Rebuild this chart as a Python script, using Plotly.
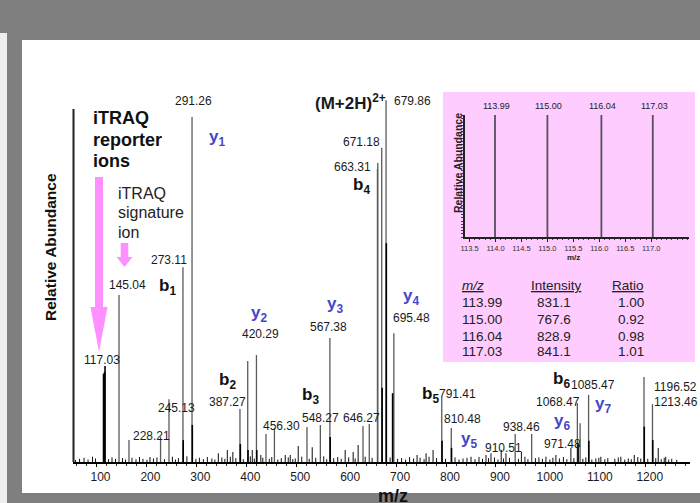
import plotly.graph_objects as go

# ---------------- data ----------------
# labelled / main fragment peaks (gray stems)
major_mz = [145.04, 165.0, 228.21, 245.13, 273.11, 291.26, 387.27, 402.8, 420.29,
            439.4, 456.30, 521.5, 548.27, 567.38, 633.7, 646.27, 662.6, 663.31,
            671.18, 679.86, 695.48, 791.41, 810.48, 938.46, 971.48, 1063.0,
            1068.47, 1085.47, 1196.52, 1213.46]
major_int = [47.3, 6.2, 7.1, 17.8, 55.2, 97.7, 15.0, 28.6, 30.3,
             7.9, 9.6, 9.9, 10.5, 35.1, 10.2, 10.8, 83.0, 84.7,
             89.0, 102.5, 36.5, 18.1, 9.6, 7.9, 7.9, 16.7,
             11.0, 19.0, 24.1, 16.4]

# dense / overlapping peaks (black stems)
dense_mz = [114.0, 115.0, 116.0, 117.03, 273.6, 291.8, 388.0, 403.4, 420.9,
            568.0, 672.0, 680.4, 693.0, 792.0, 811.0, 1064.5, 1086.0, 1197.0, 1214.0]
dense_int = [25.0, 23.5, 25.5, 27.2, 6.2, 10.5, 5.1, 3.4, 3.4,
             7.1, 21.0, 62.0, 19.5, 6.0, 4.0, 5.0, 6.0, 10.0, 6.2]

# small peaks
minor_mz = [207, 344, 362, 373, 412, 429, 478, 488, 504, 532, 598, 614, 624, 742,
            760, 774, 850, 880, 890, 910.51, 920, 951, 1000, 1020, 1050, 1110,
            1150, 1177, 1225, 1240]
minor_int = [1.4, 2.5, 3.4, 2.8, 3.4, 2.0, 2.0, 2.0, 4.5, 4.2, 3.4, 2.8, 4.8, 2.0,
             2.5, 3.4, 1.5, 2.0, 2.5, 3.5, 2.5, 2.8, 1.5, 2.0, 4.0, 1.5,
             1.5, 2.0, 4.0, 1.5]

# baseline noise
noise_mz = [58, 66, 75, 83, 92, 98, 124, 131, 138, 152, 158, 171, 179, 186, 193, 201,
            214, 221, 236, 252, 258, 264, 281, 299, 306, 314, 322, 331, 337, 351, 357,
            368, 379, 394, 408, 416, 433, 446, 451, 463, 470, 484, 493, 498, 511, 526,
            539, 555, 561, 575, 583, 590, 605, 618, 638, 652, 688, 703, 711, 719, 727,
            735, 748, 756, 766, 781, 799, 818, 826, 834, 842, 858, 866, 873, 885, 897,
            904, 915, 927, 945, 958, 964, 979, 986, 993, 1008, 1014, 1027, 1035, 1042,
            1056, 1074, 1080, 1092, 1100, 1106, 1118, 1124, 1138, 1145, 1158, 1165,
            1171, 1184, 1190, 1204, 1220, 1231, 1237, 1246, 1252, 1262]
noise_int = [0.6, 0.9, 1.2, 0.7, 1.5, 1.0, 0.8, 1.3, 0.9, 1.1, 0.7, 1.2, 0.8, 1.4, 0.9, 0.6,
             1.0, 1.3, 0.8, 1.5, 0.7, 1.1, 1.6, 0.9, 1.2, 0.8, 1.4, 1.0, 0.7, 1.3, 0.9,
             1.5, 1.1, 0.8, 1.6, 1.0, 1.2, 0.9, 1.4, 0.7, 1.1, 1.3, 0.8, 1.0, 1.5, 0.9,
             1.2, 1.6, 0.8, 1.1, 1.4, 0.9, 1.3, 1.0, 1.5, 1.2, 1.3, 0.9, 1.1, 0.7, 1.4,
             1.0, 1.2, 0.8, 1.5, 1.1, 0.9, 1.3, 0.7, 1.0, 1.2, 0.8, 1.4, 0.9, 1.1, 1.3,
             0.7, 1.0, 1.2, 0.9, 1.5, 0.8, 1.1, 1.3, 0.9, 0.7, 1.2, 1.0, 1.4, 0.8,
             1.1, 0.9, 1.3, 0.7, 1.0, 1.2, 0.8, 1.1, 0.9, 1.3, 0.7, 1.0,
             0.8, 1.4, 1.0, 0.9, 1.1, 0.8, 1.2, 0.7, 0.9, 0.6]

x_ticks = [100, 200, 300, 400, 500, 600, 700, 800, 900, 1000, 1100, 1200]

# inset: iTRAQ reporter ions
rep_mz = [113.99, 115.00, 116.04, 117.03]
rep_int = [831.1, 767.6, 828.9, 841.1]
rep_ratio = ["1.00", "0.92", "0.98", "1.01"]
rep_labels = ["113.99", "115.00", "116.04", "117.03"]
rep_int_labels = ["831.1", "767.6", "828.9", "841.1"]
inset_ticks = [113.5, 114.0, 114.5, 115.0, 115.5, 116.0, 116.5, 117.0]

peak_labels = ["291.26", "273.11", "145.04", "117.03", "671.18", "663.31", "567.38",
               "695.48", "420.29", "387.27", "245.13", "228.21", "456.30", "548.27",
               "646.27", "791.41", "810.48", "938.46", "910.51", "971.48", "1068.47",
               "1085.47", "1196.52", "1213.46"]
b_ions = ["b<sub>1</sub>", "b<sub>2</sub>", "b<sub>3</sub>", "b<sub>4</sub>",
          "b<sub>5</sub>", "b<sub>6</sub>"]
y_ions = ["y<sub>1</sub>", "y<sub>2</sub>", "y<sub>3</sub>", "y<sub>4</sub>",
          "y<sub>5</sub>", "y<sub>6</sub>", "y<sub>7</sub>"]

# ---------------- layout helpers ----------------
FONT = "Liberation Sans, Arial, sans-serif"
W, H = 700, 503
L, R, T, B = 73, 690, 98, 462
PX_PER_MZ = 0.4993
MZ0_PX = 46.6
X_RANGE = [(L - MZ0_PX) / PX_PER_MZ, (R - MZ0_PX) / PX_PER_MZ]
PX_PER_PCT = 3.53
Y_RANGE = [0, (B - T) / PX_PER_PCT]


def fx(px):
    return (px - L) / (R - L)


def fy(py):
    return (B - py) / (B - T)


def stems(mz, inten):
    xs, ys = [], []
    for m, v in zip(mz, inten):
        xs += [m, m, None]
        ys += [0, v, None]
    return xs, ys


fig = go.Figure()
for mzs, ints, col, wid in [(noise_mz, noise_int, "#111111", 1.0),
                            (minor_mz, minor_int, "#222222", 1.1),
                            (major_mz, major_int, "#5a5a5a", 1.3),
                            (dense_mz, dense_int, "#000000", 1.6)]:
    xs, ys = stems(mzs, ints)
    fig.add_trace(go.Scatter(x=xs, y=ys, mode="lines", line=dict(color=col, width=wid),
                             hoverinfo="skip", showlegend=False, xaxis="x", yaxis="y"))

xs, ys = stems(rep_mz, rep_int)
fig.add_trace(go.Scatter(x=xs, y=ys, mode="lines", line=dict(color="#55505a", width=1.8),
                         hoverinfo="skip", showlegend=False, xaxis="x2", yaxis="y2"))

annotations = []


def txt(text, px, py, size=12, color="#1a1a1a", xanchor="center", angle=0, bold=False):
    if bold:
        text = "<b>" + text + "</b>"
    annotations.append(dict(text=text, x=fx(px), y=fy(py), xref="paper", yref="paper",
                            showarrow=False, xanchor=xanchor, yanchor="middle",
                            textangle=angle, borderpad=0,
                            font=dict(size=size, color=color, family=FONT)))


# peak value labels
label_pos = [(193.5, 101), (168.7, 260), (127.7, 285), (102, 359.5), (361.7, 141.7),
             (352.8, 167.3), (328.3, 326.7), (411.7, 317.7), (260.8, 334.3), (227.7, 401.7),
             (176.7, 408.3), (151.7, 436), (281.3, 425.5), (320.7, 417.7), (361.5, 417.7),
             (457.5, 393.5), (462.5, 419), (521, 427.3), (503, 448.3), (562.8, 444),
             (558.3, 401.7), (592.5, 385), (675.8, 386.7), (675.8, 401.7)]
for t, (px, py) in zip(peak_labels, label_pos):
    txt(t, px, py, size=12)
txt("679.86", 392.5, 101, size=12, xanchor="left")
txt("(M+2H)<sup>2+</sup>", 387, 102, size=17, bold=True, xanchor="right")

# ion labels
b_pos = [(167.5, 287), (227, 381), (310.5, 396), (361, 186), (430, 395), (561, 379.5)]
for t, (px, py) in zip(b_ions, b_pos):
    txt(t, px, py, size=17, bold=True, color="#111111")
y_pos = [(217, 138), (259.3, 314), (335, 304.5), (410.5, 296.5), (469.3, 439.5),
         (561.7, 422), (603.3, 404.5)]
BLUE = "#4646c8"
for t, (px, py) in zip(y_ions, y_pos):
    txt(t, px, py, size=17, bold=True, color=BLUE)

# iTRAQ texts
txt("iTRAQ", 92, 118, size=18, bold=True, xanchor="left", color="#111111")
txt("reporter", 92, 140, size=18, bold=True, xanchor="left", color="#111111")
txt("ions", 92, 161, size=18, bold=True, xanchor="left", color="#111111")
txt("iTRAQ", 117, 193, size=16, xanchor="left", color="#222222")
txt("signature", 117, 212, size=16, xanchor="left", color="#222222")
txt("ion", 117, 232, size=16, xanchor="left", color="#222222")

# axis titles
txt("Relative Abundance", 50, 247, size=15.5, bold=True, angle=-90, color="#111111")
txt("m/z", 393, 495.5, size=18, bold=True, color="#111111")

# inset texts
for t, m in zip(rep_labels, rep_mz):
    px = 495 + (m - 113.99) * 51.9
    txt(t, px + 1.5, 106, size=9, color="#222222")
txt("m/z", 573, 257, size=8, bold=True, color="#222222")
txt("Relative Abundance", 458, 163, size=10.5, bold=True, angle=-90, color="#222222")

# table
TROW = [302.7, 319.3, 336, 351.7]
txt("<i><u>m/z</u></i>", 460.5, 285.5, size=13.5, xanchor="left", color="#222222")
txt("<u>Intensity</u>", 556, 285.5, size=13.5, color="#222222")
txt("<u>Ratio</u>", 645, 285.5, size=13.5, xanchor="right", color="#222222")
for i in range(4):
    txt(rep_labels[i], 460.5, TROW[i], size=13.5, xanchor="left", color="#222222")
    txt(rep_int_labels[i], 553.5, TROW[i], size=13.5, color="#222222")
    txt(rep_ratio[i], 644.5, TROW[i], size=13.5, xanchor="right", color="#222222")


def rect(x0, y0, x1, y1, color, layer="below"):
    return dict(type="rect", xref="paper", yref="paper", x0=fx(x0), x1=fx(x1),
                y0=fy(y1), y1=fy(y0), fillcolor=color, line=dict(width=0), layer=layer)


def poly(points, color):
    path = "M " + " L ".join(f"{fx(a):.5f},{fy(b):.5f}" for a, b in points) + " Z"
    return dict(type="path", xref="paper", yref="paper", path=path, fillcolor=color,
                line=dict(width=0), layer="above")


PINK = "#ff90ff"
shapes = [
    rect(22, 40, 700, 493, "#ffffff"),
    rect(0, 33, 7, 503, "#eeeeee"),
    rect(443, 92, 695, 362, "#ffccff"),
    # pink arrows
    rect(95, 177, 103, 308, PINK, layer="above"),
    poly([(90.5, 307), (107.5, 307), (99, 352)], PINK),
    rect(120.7, 243, 128.3, 257.5, PINK, layer="above"),
    poly([(116.5, 257), (132.5, 257), (124.5, 267)], PINK),
    # main y axis line
    dict(type="line", xref="paper", yref="y", x0=fx(73.5), x1=fx(73.5), y0=0, y1=100,
         line=dict(color="#222222", width=2)),
]

fig.update_layout(
    width=W, height=H,
    margin=dict(l=L, r=W - R, t=T, b=H - B),
    paper_bgcolor="#7f7f7f",
    plot_bgcolor="rgba(0,0,0,0)",
    showlegend=False,
    font=dict(family=FONT, color="#1a1a1a"),
    xaxis=dict(domain=[0, 1], range=X_RANGE, showgrid=False, zeroline=False,
               showline=True, linecolor="#000000", linewidth=1.5,
               ticks="outside", ticklen=3, tickcolor="#000000", tickwidth=1,
               tickvals=x_ticks, ticktext=[str(v) for v in x_ticks],
               tickfont=dict(size=12, color="#1a1a1a", family=FONT),
               ticklabelshift=4,
               minor=dict(ticks="outside", ticklen=2, dtick=20, tick0=0,
                          tickcolor="#333333", showgrid=False)),
    yaxis=dict(domain=[0, 1], range=Y_RANGE, visible=False, showgrid=False, zeroline=False),
    xaxis2=dict(domain=[fx(465), fx(689)], anchor="y2",
                range=[113.99 + (465 - 495) / 51.9, 113.99 + (689 - 495) / 51.9],
                showgrid=False, zeroline=False, showline=True, linecolor="#222222",
                linewidth=1.5, ticks="outside", ticklen=3, tickcolor="#222222",
                tickvals=inset_ticks, ticktext=[f"{v:.1f}" for v in inset_ticks],
                tickfont=dict(size=7.5, color="#333333", family=FONT),
                minor=dict(ticks="outside", ticklen=1.5, dtick=0.1, tickcolor="#444444")),
    yaxis2=dict(domain=[fy(237), fy(115)], anchor="x2", range=[0, 765],
                showgrid=False, zeroline=False, showline=True, linecolor="#222222",
                linewidth=1.5, ticks="outside", ticklen=2, dtick=20,
                tickcolor="#444444", showticklabels=False),
    annotations=annotations,
    shapes=shapes,
)

fig.write_html("out.html", config={"displayModeBar": False},
               post_script="document.body.style.margin='0';document.body.style.padding='0';"
                           "document.body.style.overflow='hidden';")
